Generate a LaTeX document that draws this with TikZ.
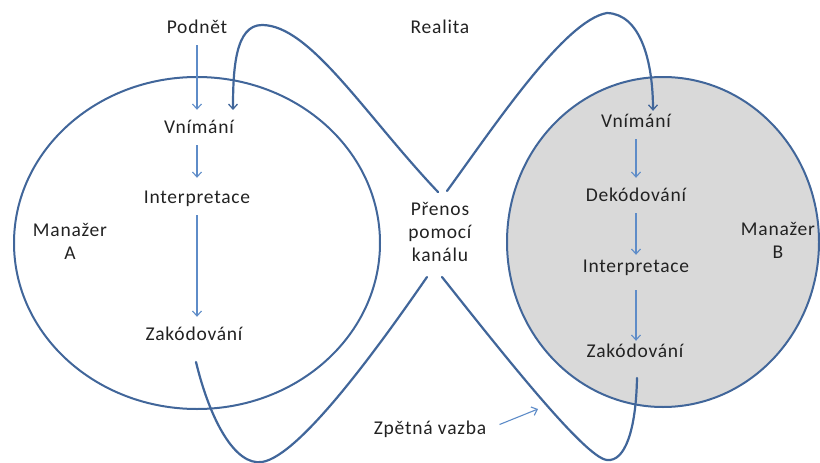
\documentclass[tikz,border=0pt]{standalone}
\usepackage{fontspec}
\setmainfont[LetterSpace=4]{Carlito}
\usetikzlibrary{arrows.meta}
\definecolor{loopblue}{HTML}{41669A}
\definecolor{flowblue}{HTML}{5E8CC8}
\definecolor{inkgray}{HTML}{222222}
\definecolor{mindgray}{HTML}{D9D9D9}
\tikzset{
  lbl/.style={inner sep=2pt, text height=14pt, text depth=4pt, text=inkgray,
              font=\fontsize{19.5}{23}\selectfont},
  multi/.style={inner sep=2pt, align=center, text=inkgray,
              font=\fontsize{19.5}{23}\selectfont},
  mind/.style={draw=loopblue, line width=2pt},
  flow/.style={draw=flowblue, line width=1.1pt,
               -{Straight Barb[length=5pt,width=9pt,line width=1.1pt]},
               shorten <=6pt, shorten >=7pt},
  loop/.style={draw=loopblue, line width=2.2pt, line cap=round},
  looptip/.style={-{Straight Barb[length=5pt,width=9pt,line width=1.3pt]}}
}
\begin{document}
\begin{tikzpicture}[x=1pt,y=-1pt]
\useasboundingbox (0,0) rectangle (820,463);

% the two managers
\draw[mind] (197,243) ellipse [x radius=183, y radius=166];
\draw[mind, fill=mindgray] (663,242) ellipse [x radius=156, y radius=165];

% labels
\node[lbl] (podnet)  at (197,28)  {Podnět};
\node[lbl] (realita) at (440,28)  {Realita};
\node[lbl] (vnimA)   at (199,128) {Vnímání};
\node[lbl] (interA)  at (197,198) {Interpretace};
\node[lbl] (zakA)    at (194,335) {Zakódování};
\node[multi] (manA)  at (70,241)  {Manažer\\A};
\node[multi] (prenos) at (440,232) {Přenos\\pomocí\\kanálu};
\node[lbl] (vnimB)   at (636,122) {Vnímání};
\node[lbl] (dekB)    at (636,196) {Dekódování};
\node[lbl] (interB)  at (636,267) {Interpretace};
\node[lbl] (zakB)    at (635,352) {Zakódování};
\node[multi] (manB)  at (778,240) {Manažer\\B};
\node[lbl] (zpet)    at (430,429) {Zpětná vazba};

% steps inside each manager
\draw[flow] (podnet.south) -- (podnet.south |- vnimA.north);
\draw[flow, shorten >=9pt] (vnimA.south -| 197,0) -- (interA.north);
\draw[flow] (interA.south) -- (interA.south |- zakA.north);
\draw[flow] (vnimB.south) -- (vnimB.south |- dekB.north);
\draw[flow, shorten >=1pt] (dekB.south) -- (dekB.south |- interB.north);
\draw[flow, shorten <=12pt, shorten >=0pt] (interB.south) -- (interB.south |- zakB.north);

% ends of the loops at the channel
\coordinate (chBL) at (427,277);
\coordinate (chBR) at (442,277);
\coordinate (chTL) at (438,192);
\coordinate (chTR) at (447,191);
\coordinate (aStart) at (196,362);
\coordinate (bStart) at (637,378);
\coordinate (fbTip) at (538,409);

% message from A through the channel to B
\draw[loop] (aStart) .. controls (210,420) and (235,466) .. (262,462)
  .. controls (300,456) and (380,345) .. (chBL);
\draw[loop, looptip] (chTR) .. controls (495,125) and (565,20) .. (607,13)
  .. controls (640,14) and (653,60) .. (vnimB.north -| 653,0);

% feedback from B back to A
\draw[loop] (bStart) .. controls (636,430) and (625,462) .. (607,460)
  .. controls (585,458) and (500,350) .. (chBR);
\draw[loop, looptip] (chTL) .. controls (365,115) and (310,25) .. (262,25)
  .. controls (235,25) and (233,70) .. (233,110);

% pointer of the feedback label
\draw[flow, shorten <=12pt, shorten >=0pt] (zpet.east) -- (fbTip);
\end{tikzpicture}
\end{document}
